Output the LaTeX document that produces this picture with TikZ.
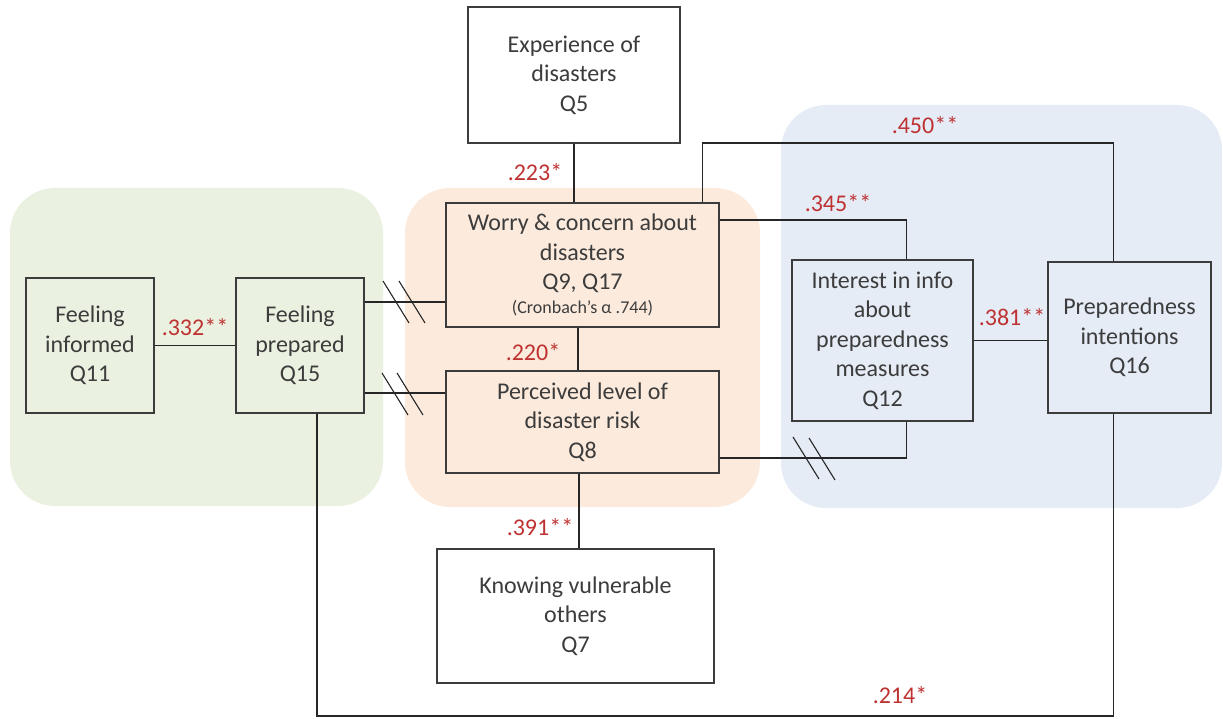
\documentclass[tikz,border=0pt]{standalone}
\usepackage{fontspec}
\setmainfont{Carlito}
\definecolor{greenbg}{RGB}{235,241,224}
\definecolor{orangebg}{RGB}{252,234,220}
\definecolor{bluebg}{RGB}{229,236,246}
\definecolor{coefred}{RGB}{190,50,50}
\definecolor{ink}{RGB}{60,60,60}

\begin{document}
\begin{tikzpicture}[
    x=1pt, y=-1pt,
    font=\fontsize{24}{29.5}\selectfont,
    group/.style={rounded corners=45pt},
    box/.style={draw=ink, line width=1.4pt, align=center, inner sep=0pt, text=ink},
    link/.style={draw=black!85, line width=1.3pt},
    coeff/.style={text=coefred, inner sep=0pt},
    slash/.style={draw=black!85, line width=1.1pt}
]
    \useasboundingbox (0,0) rectangle (1223,719);

    % shaded groups
    \fill[greenbg, group] (10,188) rectangle (383,506);
    \fill[orangebg, group] (405,188) rectangle (760,507);
    \fill[bluebg, group] (781,105) rectangle (1222,508);

    % boxes
    \node[box, fill=white, minimum width=212, minimum height=136] (exp) at (574,75) {Experience of\\disasters\\Q5};
    \node[box, minimum width=273, minimum height=124] (worry) at (582.5,265) {Worry \& concern about\\disasters\\Q9, Q17\\[-6pt]{\fontsize{18}{22}\selectfont (Cronbach’s α .744)}};
    \node[box, minimum width=273, minimum height=102] (perc) at (582.5,422) {Perceived level of\\disaster risk\\Q8};
    \node[box, fill=white, minimum width=277, minimum height=134] (know) at (575.5,616) {Knowing vulnerable\\others\\Q7};
    \node[box, minimum width=128, minimum height=135] (inf) at (90,345.5) {Feeling\\informed\\Q11};
    \node[box, minimum width=128, minimum height=135] (prep) at (300,345.5) {Feeling\\prepared\\Q15};
    \node[box, minimum width=181, minimum height=161] (inter) at (882.5,340.5) {Interest in info\\about\\preparedness\\measures\\Q12};
    \node[box, minimum width=163, minimum height=151] (intent) at (1129.5,337.5) {Preparedness\\intentions\\Q16};

    % bend points
    \coordinate (wtop) at ([xshift=120]worry.north);
    \coordinate (wside) at ([yshift=45]worry.east);
    \coordinate (pside) at ([yshift=-36]perc.east);
    \coordinate (itop) at ([xshift=24]inter.north);
    \coordinate (ibot) at ([xshift=24]inter.south);
    \coordinate (ntop) at ([xshift=-16]intent.north);
    \coordinate (nbot) at ([xshift=-16]intent.south);
    \coordinate (fbot) at ([xshift=17]prep.south);
    \coordinate (wleft) at ([yshift=-37]worry.west);
    \coordinate (pleft) at ([yshift=29]perc.west);
    \coordinate (low) at (0,716);

    % connectors
    \draw[link] (exp.south) -- (exp.south |- worry.north);
    \draw[link] (worry.south -| 578,0) -- (perc.north -| 578,0);
    \draw[link] (perc.south -| 579,0) -- (know.north -| 579,0);
    \draw[link] (inf.east) -- (prep.west);
    \draw[link] (prep.east |- wleft) -- (wleft);
    \draw[link] (prep.east |- pleft) -- (pleft);
    \draw[link] (wside) -| (itop);
    \draw[link] (wtop) |- (703,143) -| (ntop);
    \draw[link] (inter.east) -- (inter.east -| intent.west);
    \draw[link] (pside) -| (ibot);
    \draw[link] (fbot) -- (fbot |- low) -| (nbot);

    % break marks
    \foreach \cx/\cy in {396/302, 412/302, 395/394, 410/394, 806/458, 822/459}
        \draw[slash] (\cx,\cy) ++(-13,-21) -- ++(26,42);

    % coefficients
    \node[coeff] (c223) at (535,172) {.223*};
    \node[coeff] (c220) at (533,352) {.220*};
    \node[coeff] (c391) at (540,527) {.391**};
    \node[coeff] (c332) at (195,327) {.332**};
    \node[coeff] (c345) at (838,203) {.345**};
    \node[coeff] (c450) at (925,125) {.450**};
    \node[coeff] (c381) at (1012,317) {.381**};
    \node[coeff] (c214) at (900,695) {.214*};
\end{tikzpicture}
\end{document}
